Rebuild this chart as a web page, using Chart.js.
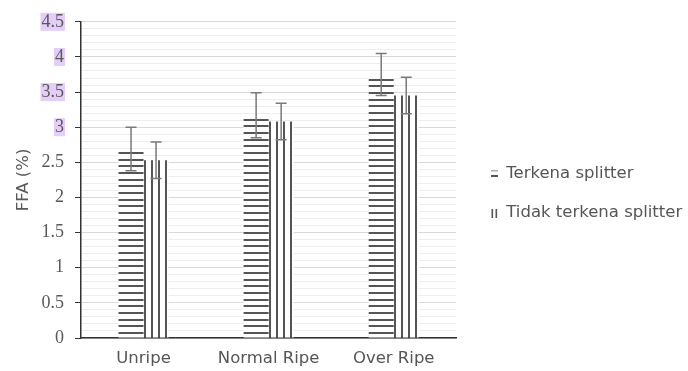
<!DOCTYPE html>
<html>
<head>
<meta charset="utf-8">
<script src="https://cdn.jsdelivr.net/npm/chart.js@4/dist/chart.umd.min.js"></script>
<style>
  html, body { margin: 0; padding: 0; background: #ffffff; }
  #wrap { width: 688px; height: 371px; position: relative; }
</style>
</head>
<body>
<div id="wrap"><canvas id="c" width="688" height="371"></canvas></div>
<script>
// ---- data ----
const categories = ['Unripe', 'Normal Ripe', 'Over Ripe'];
const seriesNames = ['Terkena splitter', 'Tidak terkena splitter'];
const terkena = [2.69, 3.17, 3.75];
const terkenaErr = [0.31, 0.32, 0.30];
const tidak = [2.53, 3.08, 3.45];
const tidakErr = [0.26, 0.26, 0.26];
const yMin = 0, yMax = 4.5, yMinorStep = 0.1;
const highlightedTicks = [3, 3.5, 4, 4.5];

// ---- styling ----
const DARK = '#555555';
const CAT_PCT = 0.4;
const BAR_PCT = 1.0;

function isMajor(v) { return Math.abs(v * 2 - Math.round(v * 2)) < 1e-6; }

function barLeft(chart, dataIndex, datasetIndex) {
  const xs = chart.scales.x;
  const center = xs.getPixelForValue(dataIndex);
  const catW = (xs.right - xs.left) / categories.length;
  const pairW = catW * CAT_PCT;
  const slot = pairW / 2;
  return center - pairW / 2 + slot * datasetIndex + slot * (1 - BAR_PCT) / 2;
}

function hPattern(chart) {
  const t = document.createElement('canvas');
  t.width = 8; t.height = 20;
  const g = t.getContext('2d');
  g.fillStyle = '#ffffff'; g.fillRect(0, 0, 8, 20);
  g.fillStyle = DARK;
  g.fillRect(0, 0, 8, 2); g.fillRect(0, 7, 8, 2); g.fillRect(0, 13, 8, 2);
  const p = chart.ctx.createPattern(t, 'repeat');
  const ys = chart.scales.y;
  const base = ys ? ys.getPixelForValue(0) : 338;
  p.setTransform(new DOMMatrix([1, 0, 0, 1, 0, Math.round(base) - 6]));
  return p;
}

function vPattern(chart, left) {
  const t = document.createElement('canvas');
  t.width = 7; t.height = 4;
  const g = t.getContext('2d');
  g.fillStyle = '#ffffff'; g.fillRect(0, 0, 7, 4);
  g.fillStyle = DARK; g.fillRect(0, 0, 2, 4);
  const p = chart.ctx.createPattern(t, 'repeat');
  p.setTransform(new DOMMatrix([1, 0, 0, 1, Math.round(left), 0]));
  return p;
}

function markerH() {
  const c = document.createElement('canvas'); c.width = 7; c.height = 8;
  const g = c.getContext('2d');
  g.fillStyle = '#b0b0b0'; g.fillRect(0, 0, 7, 1.5);
  g.fillStyle = DARK; g.fillRect(0, 5, 7, 2);
  return c;
}
function markerV() {
  const c = document.createElement('canvas'); c.width = 7; c.height = 9;
  const g = c.getContext('2d');
  g.fillStyle = DARK; g.fillRect(0.5, 0, 1.6, 9); g.fillRect(4.5, 0, 1.6, 9);
  return c;
}

// ---- plugins ----
const errorBars = {
  id: 'errorBars',
  afterDatasetsDraw(chart) {
    const errs = [terkenaErr, tidakErr];
    const ys = chart.scales.y;
    const ctx = chart.ctx;
    ctx.save();
    ctx.strokeStyle = '#7a7a7a';
    ctx.lineWidth = 1.5;
    chart.data.datasets.forEach((ds, di) => {
      const meta = chart.getDatasetMeta(di);
      meta.data.forEach((el, i) => {
        const v = ds.data[i], e = errs[di][i];
        const x = el.x;
        const yt = ys.getPixelForValue(v + e);
        const yb = ys.getPixelForValue(v - e);
        ctx.beginPath();
        ctx.moveTo(x, yt); ctx.lineTo(x, yb);
        ctx.moveTo(x - 5.5, yt); ctx.lineTo(x + 5.5, yt);
        ctx.moveTo(x - 5.5, yb); ctx.lineTo(x + 5.5, yb);
        ctx.stroke();
      });
    });
    ctx.restore();
  }
};

const labelHighlight = {
  id: 'labelHighlight',
  beforeDraw(chart) {
    const ys = chart.scales.y;
    const ctx = chart.ctx;
    ctx.save();
    ctx.font = '18px "Liberation Serif"';
    ctx.fillStyle = '#e4cdf9';
    const rightEdge = ys.right - 6 - 11;
    highlightedTicks.forEach(v => {
      const y = ys.getPixelForValue(v);
      const w = ctx.measureText(String(v)).width;
      ctx.fillRect(rightEdge - w - 1, y - 9, w + 2, 18);
    });
    ctx.restore();
  }
};

const legendShift = {
  id: 'legendShift',
  afterLayout(chart) {
    const lg = chart.legend;
    if (!lg) return;
    const pad = lg.options.labels.padding;
    const shift = 491 - (lg.left + pad);
    lg.left += shift; lg.right += shift;
  }
};

const ctx = document.getElementById('c').getContext('2d');
new Chart(ctx, {
  type: 'bar',
  data: {
    labels: categories,
    datasets: [
      {
        label: seriesNames[0],
        data: terkena,
        backgroundColor: (c) => hPattern(c.chart),
        borderWidth: 0,
        categoryPercentage: CAT_PCT,
        barPercentage: BAR_PCT
      },
      {
        label: seriesNames[1],
        data: tidak,
        backgroundColor: (c) => vPattern(c.chart, c.chart.scales.x ? barLeft(c.chart, c.dataIndex || 0, 1) : 0),
        borderWidth: 0,
        categoryPercentage: CAT_PCT,
        barPercentage: BAR_PCT
      }
    ]
  },
  options: {
    responsive: false,
    animation: false,
    devicePixelRatio: 1,
    layout: { padding: { top: 20, bottom: 4, left: 0, right: 8 } },
    plugins: {
      tooltip: { enabled: false },
      legend: {
        position: 'right',
        align: 'center',
        maxWidth: 260,
        labels: {
          usePointStyle: true,
          pointStyleWidth: 7,
          boxHeight: 9,
          padding: 22.5,
          color: '#555555',
          font: { family: '"DejaVu Sans"', size: 16.5 },
          generateLabels: () => [
            { text: seriesNames[0], pointStyle: markerH(), fillStyle: DARK, strokeStyle: 'rgba(0,0,0,0)', lineWidth: 0, datasetIndex: 0, fontColor: '#555555' },
            { text: seriesNames[1], pointStyle: markerV(), fillStyle: DARK, strokeStyle: 'rgba(0,0,0,0)', lineWidth: 0, datasetIndex: 1, fontColor: '#555555' }
          ]
        }
      }
    },
    scales: {
      x: {
        offset: true,
        grid: { display: false, drawTicks: false },
        border: { display: true, color: '#333333', width: 1.5 },
        ticks: {
          color: '#555555',
          padding: 11,
          font: { family: '"DejaVu Sans"', size: 16.5 },
          maxRotation: 0
        },
        afterFit: (s) => { s.height = 29; }
      },
      y: {
        min: yMin,
        max: yMax,
        grid: {
          color: (c) => (c.tick && isMajor(c.tick.value)) ? '#d9d9d9' : '#eeeeee',
          tickColor: (c) => (c.tick && isMajor(c.tick.value)) ? '#333333' : 'rgba(0,0,0,0)',
          tickLength: 6,
          drawTicks: true
        },
        border: { display: true, color: '#333333', width: 1.5 },
        ticks: {
          stepSize: yMinorStep,
          autoSkip: false,
          padding: 11,
          color: '#595959',
          font: { family: '"Liberation Serif"', size: 18 },
          callback: (v) => isMajor(v) ? String(Math.round(v * 10) / 10) : ''
        },
        title: {
          display: true,
          text: 'FFA (%)',
          color: '#595959',
          font: { family: '"DejaVu Sans"', size: 16.5 },
          padding: { top: 13.6, bottom: 0 }
        },
        afterFit: (s) => { s.width = 81; }
      }
    }
  },
  plugins: [labelHighlight, errorBars, legendShift]
});
</script>
</body>
</html>
